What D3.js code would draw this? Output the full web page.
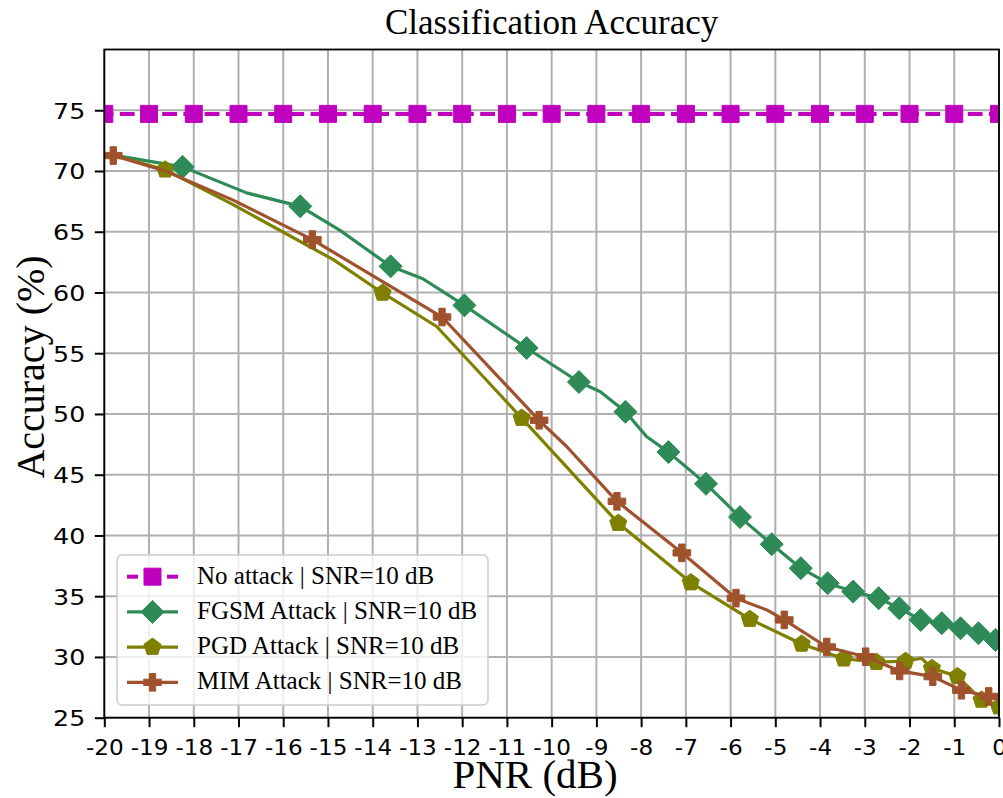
<!DOCTYPE html>
<html><head><meta charset="utf-8">
<script src="https://cdn.jsdelivr.net/npm/d3@7"></script>
<style>body{margin:0;background:#fff} svg{display:block}</style>
</head><body>
<svg id="c" width="1003" height="798"></svg>
<script>
// ---------- data ----------
const xTicks = [-20,-19,-18,-17,-16,-15,-14,-13,-12,-11,-10,-9,-8,-7,-6,-5,-4,-3,-2,-1,0];
const yTicks = [25,30,35,40,45,50,55,60,65,70,75];
const seriesNames = ["No attack | SNR=10 dB","FGSM Attack | SNR=10 dB","PGD Attack | SNR=10 dB","MIM Attack | SNR=10 dB"];
const seriesColors = ["#bf00bf","#2e8b57","#808000","#a0522d"];

const noAttackX = [-20,-19,-18,-17,-16,-15,-14,-13,-12,-11,-10,-9,-8,-7,-6,-5,-4,-3,-2,-1,0];
const noAttackY = [74.7,74.7,74.7,74.7,74.7,74.7,74.7,74.7,74.7,74.7,74.7,74.7,74.7,74.7,74.7,74.7,74.7,74.7,74.7,74.7,74.7];

const fgsmX = [-19.80,-18.25,-16.82,-15.62,-14.73,-13.60,-12.88,-11.95,-10.56,-9.39,-8.92,-8.35,-7.88,-7.39,-6.55,-5.79,-5.08,-4.43,-3.83,-3.26,-2.69,-2.23,-1.75,-1.28,-0.86,-0.46,-0.08];
const fgsmY = [71.30,70.34,68.20,67.09,65.11,62.15,61.13,58.94,55.43,52.63,51.85,50.18,48.15,46.86,44.25,41.51,39.28,37.31,36.07,35.38,34.84,34.01,33.05,32.78,32.36,31.95,31.40];
const fgsmMark = [0,1,0,1,0,1,0,1,1,1,0,1,0,1,1,1,1,1,1,1,1,1,1,1,1,1,1];

const pgdX = [-19.80,-18.64,-17.12,-14.88,-13.78,-12.57,-10.67,-8.51,-6.89,-5.57,-4.41,-3.47,-2.74,-2.09,-1.73,-1.50,-0.93,-0.39,0.00];
const pgdY = [71.30,70.10,67.23,62.70,59.96,57.20,49.66,41.01,36.12,33.11,31.07,29.85,29.57,29.65,29.89,29.07,28.40,26.46,25.90];
const pgdMark = [0,1,0,0,1,0,1,1,1,1,1,1,1,1,0,1,1,1,1];

const mimX = [-19.80,-18.64,-17.12,-15.35,-12.45,-10.28,-9.665,-8.54,-7.09,-5.88,-5.19,-4.80,-3.85,-2.98,-2.22,-1.48,-0.84,-0.23,0.00];
const mimY = [71.27,70.00,67.60,64.35,57.98,49.48,47.32,42.81,38.57,34.84,33.87,33.05,30.82,30.02,28.85,28.38,27.26,26.75,26.46];
const mimMark = [1,0,0,1,1,1,0,1,1,1,0,1,1,1,1,1,1,1,0];

// ---------- layout ----------
const L = 104.3, R = 999, T = 49.5, B = 717.7;
const x = d3.scaleLinear().domain([-20, 0]).range([L, R]);
const y = d3.scaleLinear().domain([25, 80]).range([B, T]);
const svg = d3.select("#c");
svg.append("rect").attr("width",1003).attr("height",798).attr("fill","#fff");

svg.append("defs").append("clipPath").attr("id","clip")
  .append("rect").attr("x",L).attr("y",T).attr("width",R-L).attr("height",B-T);

// grid
const grid = svg.append("g");
grid.selectAll(".vg").data(xTicks).join("line")
  .attr("x1",d=>x(d)).attr("x2",d=>x(d)).attr("y1",T).attr("y2",B)
  .attr("stroke","#b0b0b0").attr("stroke-width",2);
grid.selectAll(".hg").data(yTicks).join("line")
  .attr("y1",d=>y(d)).attr("y2",d=>y(d)).attr("x1",L).attr("x2",R)
  .attr("stroke","#b0b0b0").attr("stroke-width",2);

// axes
const fmt = d => String(d);
const xAxis = svg.append("g").attr("transform",`translate(0,${B})`)
  .call(d3.axisBottom(x).tickValues(xTicks).tickSize(9.5).tickSizeOuter(0).tickFormat(fmt));
const yAxis = svg.append("g").attr("transform",`translate(${L},0)`)
  .call(d3.axisLeft(y).tickValues(yTicks).tickSize(9.5).tickSizeOuter(0).tickFormat(fmt));
[xAxis,yAxis].forEach(a=>{
  a.select(".domain").remove();
  a.selectAll(".tick line").attr("stroke","#000").attr("stroke-width",2);
  a.selectAll(".tick text").attr("font-family","DejaVu Sans").attr("font-size",21).attr("fill","#000")
    .attr("x",0).attr("y",0).attr("dy",null);
});
xAxis.selectAll(".tick text").attr("text-anchor","middle")
  .attr("transform","translate(0,37.5) scale(1.1,1)");
yAxis.selectAll(".tick text").attr("text-anchor","end").attr("font-size",22)
  .attr("transform","translate(-19,8) scale(1.15,1)");

// data
const plot = svg.append("g").attr("clip-path","url(#clip)");
const lineGen = d3.line().x(d=>x(d[0])).y(d=>y(d[1]));

function markerPath(kind, s){
  if(kind==="square"){ return `M${-s},${-s}h${2*s}v${2*s}h${-2*s}Z`; }
  if(kind==="diamond"){ return `M0,${-s}L${s},0L0,${s}L${-s},0Z`; }
  if(kind==="pentagon"){
    const p=[]; for(let k=0;k<5;k++){const a=-Math.PI/2+k*2*Math.PI/5; p.push([s*Math.cos(a), s*Math.sin(a)]);}
    return "M"+p.map(q=>q[0].toFixed(2)+","+q[1].toFixed(2)).join("L")+"Z";
  }
  if(kind==="plus"){
    const a=s, w=s*0.36;
    return `M${-w},${-a}H${w}V${-w}H${a}V${w}H${w}V${a}H${-w}V${w}H${-a}V${-w}H${-w}Z`;
  }
}

const series = [
  {xs:noAttackX, ys:noAttackY, mk:noAttackX.map(()=>1), color:seriesColors[0], marker:"square", ms:8.5, lw:4, dash:"14.8,6.4"},
  {xs:fgsmX, ys:fgsmY, mk:fgsmMark, color:seriesColors[1], marker:"diamond", ms:11.5, lw:3.2, dash:null},
  {xs:pgdX, ys:pgdY, mk:pgdMark, color:seriesColors[2], marker:"pentagon", ms:9, lw:3.2, dash:null},
  {xs:mimX, ys:mimY, mk:mimMark, color:seriesColors[3], marker:"plus", ms:8.8, lw:3.2, dash:null}
];

series.forEach(s=>{
  const pts = s.xs.map((v,i)=>[v, s.ys[i], s.mk[i]]);
  const g = plot.append("g");
  const p = g.append("path").datum(pts).attr("d",lineGen).attr("fill","none")
    .attr("stroke",s.color).attr("stroke-width",s.lw).attr("stroke-linejoin","round");
  if(s.dash){ p.attr("stroke-dasharray",s.dash).attr("stroke-dashoffset",-15.5); }
  g.selectAll(".m").data(pts.filter(d=>d[2]===1)).join("path")
    .attr("transform",d=>`translate(${x(d[0])},${y(d[1])})`)
    .attr("d",markerPath(s.marker,s.ms)).attr("fill",s.color).attr("stroke",s.color).attr("stroke-width",1);
});

// frame
svg.append("rect").attr("x",L).attr("y",T).attr("width",R-L).attr("height",B-T)
  .attr("fill","none").attr("stroke","#000").attr("stroke-width",1.8);

// legend
const lg = svg.append("g");
lg.append("rect").attr("x",117).attr("y",555).attr("width",371).attr("height",150).attr("rx",5)
  .attr("fill","#fff").attr("fill-opacity",0.8).attr("stroke","#cccccc").attr("stroke-width",1.5);
series.forEach((s,i)=>{
  const cy = 576.7 + i*35.2;
  if(s.dash){
    lg.append("line").attr("x1",127).attr("x2",138).attr("y1",cy).attr("y2",cy).attr("stroke",s.color).attr("stroke-width",s.lw);
    lg.append("line").attr("x1",167).attr("x2",178).attr("y1",cy).attr("y2",cy).attr("stroke",s.color).attr("stroke-width",s.lw);
  } else {
    lg.append("line").attr("x1",127).attr("x2",178).attr("y1",cy).attr("y2",cy).attr("stroke",s.color).attr("stroke-width",s.lw);
  }
  lg.append("path").attr("transform",`translate(152.5,${cy})`).attr("d",markerPath(s.marker,s.ms))
    .attr("fill",s.color).attr("stroke",s.color).attr("stroke-width",1);
  lg.append("text").attr("x",197).attr("y",cy+7).attr("font-family","Liberation Serif").attr("font-size",25)
    .attr("fill","#000").text(seriesNames[i]);
});

// titles
svg.append("text").attr("x",(L+R)/2).attr("y",33.5).attr("text-anchor","middle")
  .attr("font-family","Liberation Serif").attr("font-size",35).attr("fill","#000").text("Classification Accuracy");
svg.append("text").attr("x",535).attr("y",788).attr("text-anchor","middle")
  .attr("font-family","Liberation Serif").attr("font-size",41).attr("fill","#000").text("PNR (dB)");
svg.append("text").attr("transform","translate(44,367) rotate(-90)").attr("text-anchor","middle")
  .attr("font-family","Liberation Serif").attr("font-size",40).attr("fill","#000").text("Accuracy (%)");
</script>
</body></html>
